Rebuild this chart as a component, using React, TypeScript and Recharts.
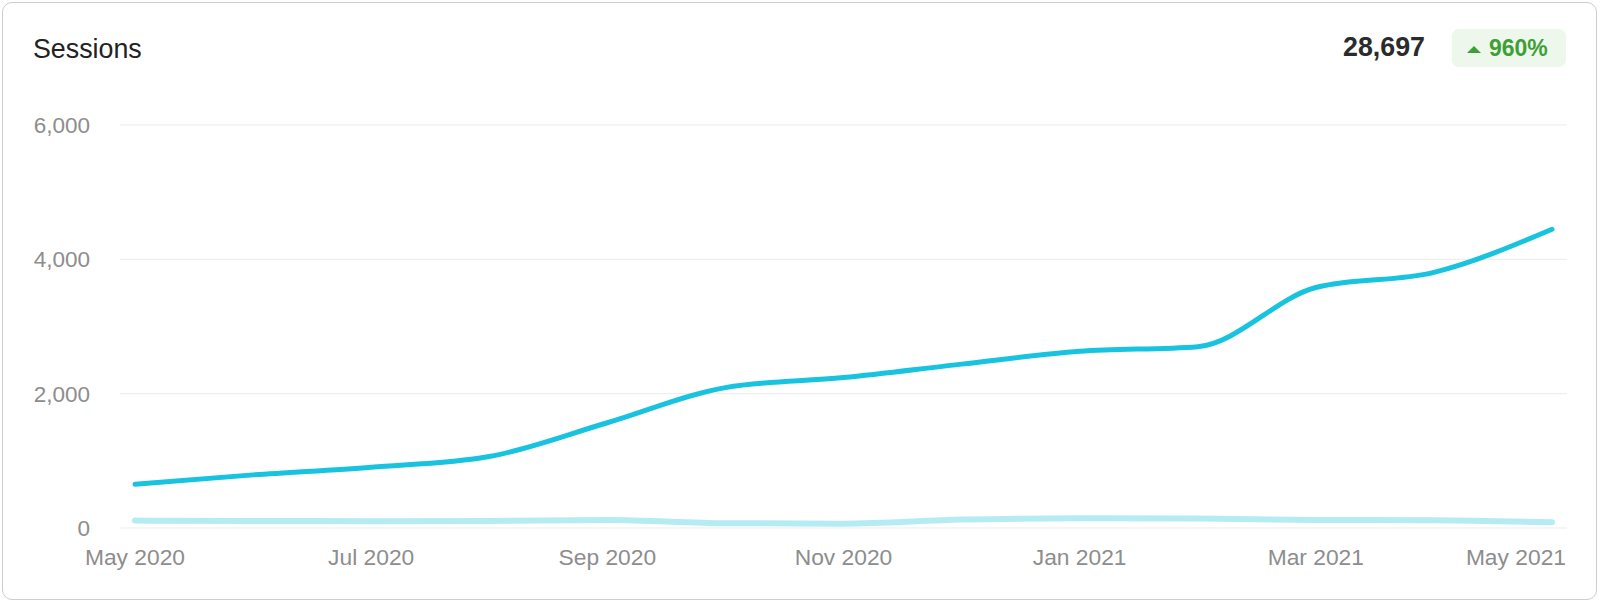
import React from 'react';
import { LineChart, Line, XAxis, YAxis, CartesianGrid } from 'recharts';

const months = ['May 2020', 'Jun 2020', 'Jul 2020', 'Aug 2020', 'Sep 2020', 'Oct 2020', 'Nov 2020', 'Dec 2020', 'Jan 2021', 'Feb 2021', 'Mar 2021', 'Apr 2021', 'May 2021'];
const sessions = [652, 791, 906, 1064, 1567, 2090, 2240, 2440, 2630, 2700, 3580, 3806, 4448];
const previous = [110, 105, 102, 105, 118, 72, 65, 125, 145, 140, 120, 115, 85];
const xTicks = ['May 2020', 'Jul 2020', 'Sep 2020', 'Nov 2020', 'Jan 2021', 'Mar 2021', 'May 2021'];
const yTicks = [0, 2000, 4000, 6000];
const title = 'Sessions';
const total = '28,697';
const change = '960%';

const data = months.map((m, i) => ({ month: m, sessions: sessions[i], previous: previous[i] }));

const FONT = '"Liberation Sans", Arial, Helvetica, sans-serif';
const TICK_COLOR = '#8d8d8d';

const XTick = (props: any) => {
  const { x, y, payload, index } = props;
  const last = index === xTicks.length - 1;
  return (
    <text
      x={last ? x + 14 : x}
      y={y}
      dy="0.71em"
      textAnchor={last ? 'end' : 'middle'}
      fill={TICK_COLOR}
      fontSize={22.8}
      fontFamily={FONT}
    >
      {payload.value}
    </text>
  );
};

export default function App() {
  return (
    <div style={{ position: 'absolute', left: 0, top: 0, width: 1600, height: 603, background: '#fff', fontFamily: FONT }}>
      <div
        style={{
          position: 'absolute',
          left: 2,
          top: 2,
          width: 1595,
          height: 598,
          boxSizing: 'border-box',
          border: '1.5px solid #cdcdcd',
          borderRadius: 10,
        }}
      />
      <div style={{ position: 'absolute', left: 33, top: 36, fontSize: 26.8, lineHeight: '27px', color: '#222' }}>{title}</div>
      <div style={{ position: 'absolute', right: 175, top: 34, fontSize: 26.8, lineHeight: '27px', fontWeight: 700, color: '#2b2b2b' }}>{total}</div>
      <svg style={{ position: 'absolute', left: 1452, top: 29 }} width={114} height={38}>
        <rect x={0} y={0} width={114} height={38} rx={7} fill="#edf7ec" />
        <polygon points="15,24 29,24 22,17" fill="#3f9f37" />
        <text x={37} y={27} fontSize={23} fontWeight={700} fill="#3f9f37" fontFamily={FONT}>{change}</text>
      </svg>
      <div style={{ position: 'absolute', left: 0, top: 0 }}>
        <LineChart width={1600} height={603} data={data} margin={{ top: 125, right: 33, bottom: 35, left: 20 }}>
          <CartesianGrid vertical={false} stroke="#ebebeb" strokeWidth={1} />
          <XAxis
            dataKey="month"
            ticks={xTicks}
            interval={0}
            padding={{ left: 15, right: 15 }}
            axisLine={false}
            tickLine={false}
            tickSize={6}
            tickMargin={15}
            height={40}
            tick={<XTick />}
          />
          <YAxis
            domain={[0, 6000]}
            ticks={yTicks}
            width={100}
            axisLine={false}
            tickLine={false}
            tickSize={6}
            tickMargin={24}
            tickFormatter={(v: number) => v.toLocaleString('en-US')}
            tick={{ fill: TICK_COLOR, fontSize: 22.5, fontFamily: FONT }}
          />
          <Line
            type="monotone"
            dataKey="previous"
            stroke="#b5ecf4"
            strokeWidth={6}
            strokeLinecap="round"
            dot={false}
            activeDot={false}
            isAnimationActive={false}
          />
          <Line
            type="monotone"
            dataKey="sessions"
            stroke="#17c3df"
            strokeWidth={5}
            strokeLinecap="round"
            dot={false}
            activeDot={false}
            isAnimationActive={false}
          />
        </LineChart>
      </div>
    </div>
  );
}
